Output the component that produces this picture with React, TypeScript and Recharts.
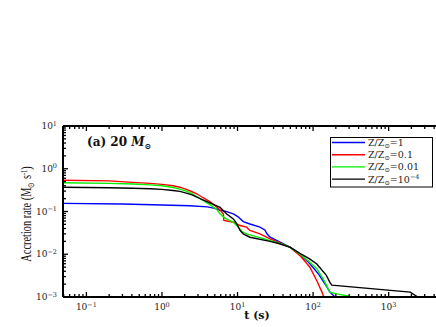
import { Line, LineChart, ReferenceLine, XAxis, YAxis } from "recharts"

// accretion rate (Msun/s) vs time (s)
const blueT = [0.049, 0.3, 1, 2.35, 4, 5, 5.9, 7.2, 8.8, 10.2, 11.9, 14.6, 19.8, 23, 24.5, 27, 35, 50, 67, 85, 100, 120, 135, 150, 167, 195]
const blueRate = [0.155, 0.15, 0.142, 0.136, 0.128, 0.118, 0.107, 0.099, 0.088, 0.075, 0.058, 0.051, 0.043, 0.037, 0.03, 0.025, 0.02, 0.0145, 0.0098, 0.0068, 0.0049, 0.0033, 0.0024, 0.0018, 0.0013, 0.001]

const redT = [0.049, 0.2, 0.41, 0.7, 1, 1.4, 1.73, 2.1, 2.5, 2.88, 3.5, 4.3, 5.1, 5.9, 6.5, 6.6, 8.8, 10.8, 13.2, 14.6, 19.8, 27, 35, 50, 67, 80, 91, 112, 131, 139]
const redRate = [0.54, 0.52, 0.48, 0.455, 0.43, 0.4, 0.37, 0.33, 0.29, 0.26, 0.21, 0.17, 0.135, 0.108, 0.087, 0.062, 0.056, 0.047, 0.043, 0.036, 0.03, 0.023, 0.019, 0.0145, 0.0093, 0.0065, 0.0049, 0.0024, 0.0013, 0.001]

const greenT = [0.049, 0.2, 0.41, 0.7, 1, 1.4, 1.73, 2.1, 2.5, 3.2, 4.3, 5.3, 5.87, 6.5, 7.1, 8.8, 10, 11.5, 13.2, 24.4, 35, 50, 67, 90, 112, 135, 150, 167, 206, 310, 350]
const greenRate = [0.47, 0.455, 0.44, 0.42, 0.4, 0.365, 0.335, 0.3, 0.26, 0.2, 0.145, 0.112, 0.088, 0.075, 0.067, 0.056, 0.045, 0.034, 0.03, 0.022, 0.0185, 0.0145, 0.01, 0.0066, 0.0046, 0.0027, 0.0019, 0.0013, 0.00118, 0.00103, 0.001]

const blackT = [0.049, 0.2, 0.41, 0.7, 1, 1.4, 1.73, 2.1, 2.5, 3.2, 4.3, 5.87, 7.2, 8.8, 9.7, 10.8, 11.9, 14.6, 27, 35, 50, 67, 90, 112, 150, 167, 177, 1930, 2430]
const blackRate = [0.37, 0.36, 0.35, 0.34, 0.33, 0.31, 0.295, 0.27, 0.245, 0.2, 0.16, 0.125, 0.087, 0.067, 0.053, 0.036, 0.03, 0.025, 0.02, 0.0178, 0.0145, 0.0105, 0.0078, 0.0059, 0.0032, 0.0022, 0.0019, 0.0013, 0.001]

const xMajor = [0.1, 1, 10, 100, 1000]
const yMajor = [0.001, 0.01, 0.1, 1, 10]
const legendLabels = ["1", "0.1", "0.01", "10"]

const W = 445
const H = 327
const PLOT_LEFT = 63
const PLOT_TOP = 126
const PLOT_BOTTOM = 297
const PLOT_RIGHT = 438
const FONT = "'DejaVu Serif', serif"

const toPoints = (t: number[], r: number[]) => t.map((v, i) => ({ t: v, r: r[i] }))

const series = [
  { name: "blue", color: "#0000ff", data: toPoints(blueT, blueRate) },
  { name: "red", color: "#ff0000", data: toPoints(redT, redRate) },
  { name: "green", color: "#00f000", data: toPoints(greenT, greenRate) },
  { name: "black", color: "#000000", data: toPoints(blackT, blackRate) },
]

const withMinors = (majors: number[], lo: number, hi: number) => {
  const out: number[] = []
  for (const d of [majors[0] / 10, ...majors]) {
    for (let m = 1; m <= 9; m++) {
      const v = d * m
      if (v >= lo && v <= hi) out.push(v)
    }
  }
  return out
}

const xTicks = withMinors(xMajor, 0.049, 4500)
const yTicks = withMinors(yMajor, 0.001, 10)

const isMajor = (v: number) => {
  const l = Math.log10(v)
  return Math.abs(l - Math.round(l)) < 1e-6
}
const expText = (v: number) => {
  const e = Math.round(Math.log10(v))
  return e < 0 ? `\u2212${-e}` : `${e}`
}

const XTick = (props: any) => {
  const { x, payload } = props
  const v = payload.value
  const major = isMajor(v)
  const len = major ? 5 : 3
  return (
    <g>
      <line x1={x} x2={x} y1={PLOT_BOTTOM} y2={PLOT_BOTTOM - len} stroke="#000" strokeWidth={1.3} />
      <line x1={x} x2={x} y1={PLOT_TOP} y2={PLOT_TOP + len} stroke="#000" strokeWidth={1.3} />
      {major && (
        <text x={x} y={310} textAnchor="middle" fontFamily={FONT} fontSize={9} fill="#222">
          10<tspan dy={-3.5} fontSize={6.5}>{expText(v)}</tspan>
        </text>
      )}
    </g>
  )
}

const YTick = (props: any) => {
  const { y, payload } = props
  const v = payload.value
  const major = isMajor(v)
  const len = major ? 5 : 3
  return (
    <g>
      <line x1={PLOT_LEFT} x2={PLOT_LEFT + len} y1={y} y2={y} stroke="#000" strokeWidth={1.3} />
      {major && (
        <text x={57} y={y + 3} textAnchor="end" fontFamily={FONT} fontSize={9} fill="#222">
          10<tspan dy={-3.5} fontSize={6.5}>{expText(v)}</tspan>
        </text>
      )}
    </g>
  )
}

const Overlay = () => {
  const rowY = [142.5, 154.7, 166.9, 179.1]
  return (
    <svg width={436} height={H} style={{ position: "absolute", left: 0, top: 0, pointerEvents: "none" }}>
      <text x={87} y={146} fontFamily={FONT} fontSize={12} fontWeight="bold" fill="#111">
        (a) 20 <tspan fontStyle="italic">M</tspan>
        <tspan dy={3} fontSize={8}>⊙</tspan>
      </text>
      <text x={257} y={319} textAnchor="middle" fontFamily={FONT} fontSize={11} fontWeight="bold" fill="#111">
        t (s)
      </text>
      <text
        transform="translate(31,214) rotate(-90) scale(0.74,1)"
        textAnchor="middle"
        fontFamily="'Liberation Serif', serif"
        fontSize={14}
        fill="#111"
      >
        Accretion rate (M<tspan dy={2.5} fontSize={9.5}>⊙</tspan>
        <tspan dy={-2.5}> s</tspan>
        <tspan dy={-4.5} fontSize={8.5}>-1</tspan>
        <tspan dy={4.5}>)</tspan>
      </text>
      <rect x={330.5} y={137.5} width={102} height={49.5} fill="#fff" stroke="#000" strokeWidth={1} />
      {series.map((s, i) => (
        <g key={s.name}>
          <line x1={332} x2={365} y1={rowY[i]} y2={rowY[i]} stroke={s.color} strokeWidth={1.4} />
          <text x={368} y={rowY[i] + 3.5} fontFamily={FONT} fontSize={9.5} fill="#222">
            Z/Z<tspan dy={2} fontSize={6.5}>⊙</tspan>
            <tspan dy={-2}>={legendLabels[i]}</tspan>
            {i === 3 && (
              <tspan dy={-3.5} fontSize={6.5}>
                −4
              </tspan>
            )}
          </text>
        </g>
      ))}
    </svg>
  )
}

export default function App() {
  return (
    <div style={{ position: "absolute", left: 0, top: 0, width: 436, height: H, overflow: "hidden", background: "#fff" }}>
      <LineChart width={W} height={H} margin={{ top: PLOT_TOP, right: W - PLOT_RIGHT, bottom: 0, left: 0 }}>
        <XAxis
          dataKey="t"
          type="number"
          scale="log"
          domain={[0.049, 4500]}
          allowDataOverflow
          ticks={xTicks}
          interval={0}
          tick={<XTick />}
          tickLine={false}
          height={H - PLOT_BOTTOM}
          axisLine={{ stroke: "#000", strokeWidth: 2 }}
        />
        <YAxis
          dataKey="r"
          type="number"
          scale="log"
          domain={[0.001, 10]}
          allowDataOverflow
          ticks={yTicks}
          interval={0}
          tick={<YTick />}
          tickLine={false}
          width={PLOT_LEFT}
          axisLine={{ stroke: "#000", strokeWidth: 2 }}
        />
        <ReferenceLine y={10} stroke="#000" strokeWidth={2} />
        {series.map((s) => (
          <Line
            key={s.name}
            data={s.data}
            dataKey="r"
            type="linear"
            stroke={s.color}
            strokeWidth={1.4}
            dot={false}
            activeDot={false}
            isAnimationActive={false}
          />
        ))}
      </LineChart>
      <Overlay />
    </div>
  )
}
